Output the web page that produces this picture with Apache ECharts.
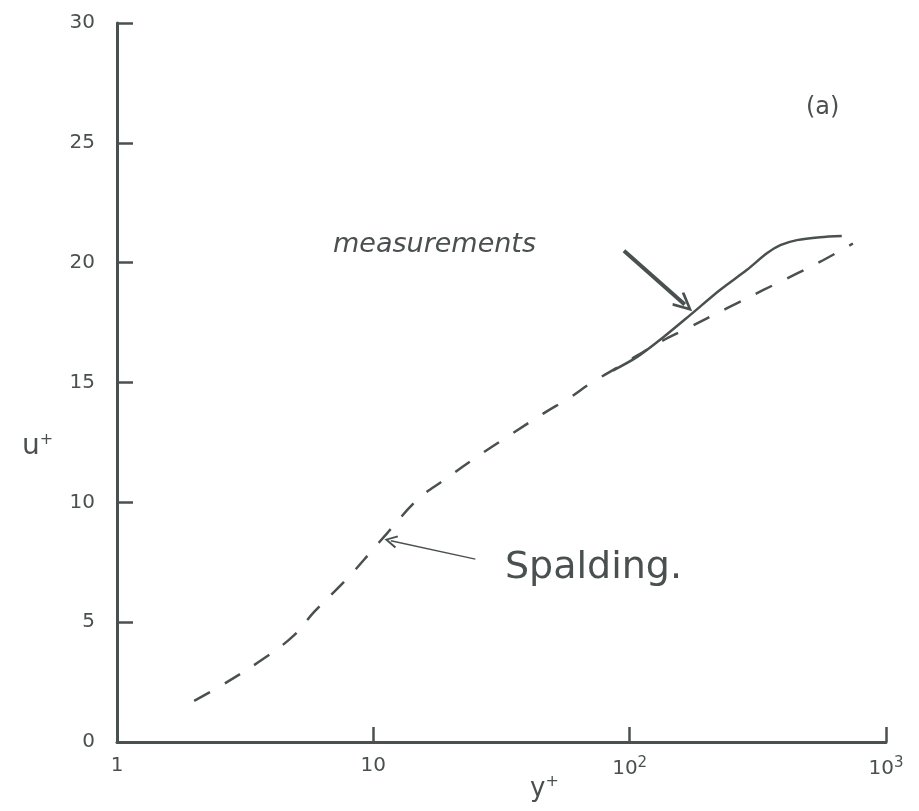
<!DOCTYPE html>
<html>
<head>
<meta charset="utf-8">
<script src="https://cdn.jsdelivr.net/npm/echarts@6/dist/echarts.min.js"></script>
<style>
  html, body { margin: 0; padding: 0; background: #ffffff; }
  #chart { width: 919px; height: 811px; }
</style>
</head>
<body>
<div id="chart"></div>
<script>
// Axis ticks
const yPlusTicks = [1, 10, 100, 1000];
const uPlusTicks = [0, 5, 10, 15, 20, 25, 30];

// Spalding's law-of-the-wall curve (dashed)
const spaldingYPlus = [2.0, 2.5, 3.7, 4.9, 5.9, 7.8, 10, 11.4, 15, 19, 25, 34, 46, 59, 70, 92, 132, 167, 240, 331, 450, 568, 743];
const spaldingUPlus = [1.72, 2.3, 3.45, 4.45, 5.45, 6.75, 8.05, 8.75, 10.15, 10.95, 11.85, 12.8, 13.7, 14.4, 14.95, 15.7, 16.7, 17.25, 18.1, 18.85, 19.55, 20.1, 20.8];

// Measured profile (solid)
const measuredYPlus = [86, 107, 136, 172, 225, 286, 343, 387, 449, 553, 672];
const measuredUPlus = [15.5, 16.07, 16.91, 17.81, 18.86, 19.69, 20.39, 20.73, 20.94, 21.06, 21.11];

// Annotation arrows: [start, end] in (y+, u+)
const measurementsArrow = [[95, 20.5], [164, 18.25]];
const spaldingArrow = [[25, 7.63], [11.7, 8.4]];

const ink = '#4a5050';
const chevron = 'path://M10 0 L20 17 L17.5 18.5 L10 5.5 L2.5 18.5 L0 17 Z';

const pairs = (xs, ys) => xs.map((x, i) => [x, ys[i]]);

const chart = echarts.init(document.getElementById('chart'));
chart.setOption({
  backgroundColor: '#ffffff',
  animation: false,
  grid: { left: 117, right: 33, top: 23, bottom: 69 },
  xAxis: {
    type: 'log',
    logBase: 10,
    min: yPlusTicks[0],
    max: yPlusTicks[yPlusTicks.length - 1],
    axisLine: { lineStyle: { color: ink, width: 3 } },
    axisTick: { inside: true, length: 15, lineStyle: { color: ink, width: 2.5 } },
    minorTick: { show: false },
    splitLine: { show: false },
    axisLabel: {
      margin: 14,
      color: ink,
      fontFamily: 'DejaVu Sans',
      fontSize: 20,
      formatter: function (v) {
        if (v === 1) return '1';
        if (v === 10) return '10';
        const e = Math.round(Math.log10(v));
        return '10{sup|' + e + '}';
      },
      rich: {
        sup: { fontSize: 15, color: ink, fontFamily: 'DejaVu Sans', verticalAlign: 'top', padding: [0, 0, 10, 0] }
      }
    }
  },
  yAxis: {
    type: 'value',
    min: uPlusTicks[0],
    max: uPlusTicks[uPlusTicks.length - 1],
    interval: 5,
    axisLine: { show: true, lineStyle: { color: ink, width: 3 } },
    axisTick: { show: true, inside: true, length: 16, lineStyle: { color: ink, width: 2.5 } },
    splitLine: { show: false },
    axisLabel: {
      margin: 22,
      color: ink,
      fontFamily: 'DejaVu Sans',
      fontSize: 20
    }
  },
  series: [
    {
      name: 'Spalding',
      type: 'line',
      data: pairs(spaldingYPlus, spaldingUPlus),
      smooth: 0.4,
      showSymbol: false,
      lineStyle: { color: ink, width: 2.5, type: [18, 17] },
      markLine: {
        silent: true,
        symbol: ['none', chevron],
        symbolSize: [13, 13],
        label: { show: false },
        lineStyle: { color: ink, width: 1.5, type: 'solid' },
        data: [[{ coord: spaldingArrow[0] }, { coord: spaldingArrow[1] }]]
      }
    },
    {
      name: 'measurements',
      type: 'line',
      data: pairs(measuredYPlus, measuredUPlus),
      smooth: 0.3,
      showSymbol: false,
      lineStyle: { color: ink, width: 2.5 },
      markLine: {
        silent: true,
        symbol: ['none', chevron],
        symbolSize: [18, 20],
        label: { show: false },
        lineStyle: { color: ink, width: 4, type: 'solid' },
        data: [[{ coord: measurementsArrow[0] }, { coord: measurementsArrow[1] }]]
      }
    }
  ],
  graphic: [
    {
      type: 'text', left: 333, top: 231,
      style: { text: 'measurements', fill: ink, font: 'italic 27px "DejaVu Sans"' }
    },
    {
      type: 'text', left: 505, top: 549,
      style: { text: 'Spalding.', fill: ink, font: '38px "DejaVu Sans"' }
    },
    {
      type: 'text', left: 806, top: 96,
      style: { text: '(a)', fill: ink, font: '24px "DejaVu Sans"' }
    },
    {
      type: 'text', left: 22, top: 432,
      style: {
        text: 'u{s|+}', fill: ink, font: '28px "DejaVu Sans"',
        rich: { s: { fontSize: 16, fill: ink, fontFamily: 'DejaVu Sans', verticalAlign: 'top', padding: [0, 0, 14, 0] } }
      }
    },
    {
      type: 'text', left: 530, top: 774,
      style: {
        text: 'y{s|+}', fill: ink, font: '26px "DejaVu Sans"',
        rich: { s: { fontSize: 16, fill: ink, fontFamily: 'DejaVu Sans', verticalAlign: 'top', padding: [0, 0, 14, 0] } }
      }
    }
  ]
});
</script>
</body>
</html>
